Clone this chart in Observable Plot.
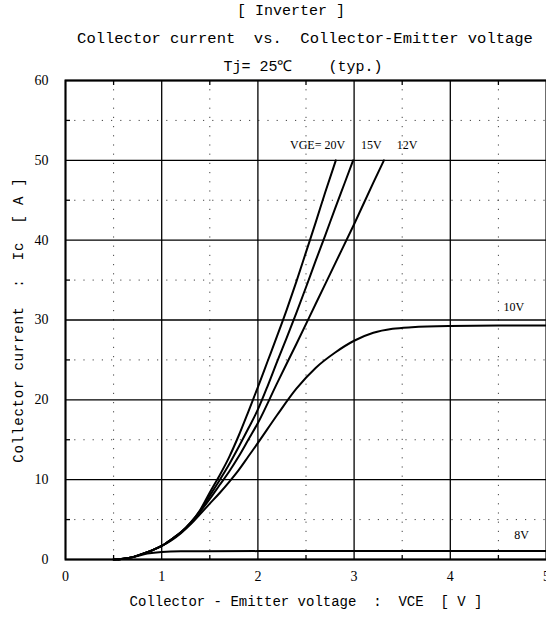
<!DOCTYPE html>
<html>
<head>
<meta charset="utf-8">
<script src="https://cdn.jsdelivr.net/npm/d3@7"></script>
<script src="https://cdn.jsdelivr.net/npm/@observablehq/plot@0.6"></script>
<style>
  body { margin: 0; background: #fff; }
  #wrap { position: relative; width: 546px; height: 620px; }
  .t { position: absolute; left: 0; width: 546px; text-align: center; font-family: "Liberation Mono", monospace; color: #000; white-space: pre; }
  #chart { position: absolute; left: 0; top: 0; }
</style>
</head>
<body>
<div id="wrap">
  <div id="chart"></div>
  <div class="t" style="top:3px;left:18px;font-size:15px;">[ Inverter ]</div>
  <div class="t" style="top:30px;left:32px;font-size:15.5px;">Collector current  vs.  Collector-Emitter voltage</div>
  <div class="t" style="top:55px;left:30px;font-size:15px;">Tj= 25℃    (typ.)</div>
</div>
<script>
const xTicks = [0, 1, 2, 3, 4, 5];
const yTicks = [0, 10, 20, 30, 40, 50, 60];
const xMinor = [0.5, 1.5, 2.5, 3.5, 4.5];
const yMinor = [5, 15, 25, 35, 45, 55];

const vge20 = [[0.5,0],[0.6,0.1],[0.7,0.3],[0.8,0.7],[0.9,1.15],[1.0,1.7],[1.1,2.5],[1.2,3.4],[1.3,4.6],[1.4,6.2],[1.5,8.4],[1.6,10.5],[1.7,12.8],[1.8,15.5],[1.9,18.5],[2.0,21.6],[2.1,24.8],[2.2,28.0],[2.3,31.3],[2.4,34.8],[2.5,38.5],[2.6,42.2],[2.7,46.0],[2.81,50]];
const vge15 = [[0.5,0],[0.6,0.1],[0.7,0.3],[0.8,0.7],[0.9,1.15],[1.0,1.7],[1.1,2.5],[1.2,3.4],[1.3,4.6],[1.4,6.1],[1.5,8.0],[1.6,9.9],[1.7,11.9],[1.8,14.1],[1.9,16.4],[2.0,18.8],[2.1,21.7],[2.2,24.8],[2.3,27.8],[2.4,30.9],[2.5,34.1],[2.6,37.4],[2.7,40.6],[2.8,43.9],[2.9,47.1],[2.99,50]];
const vge12 = [[0.5,0],[0.6,0.1],[0.7,0.3],[0.8,0.7],[0.9,1.15],[1.0,1.7],[1.1,2.5],[1.2,3.4],[1.3,4.5],[1.4,6.0],[1.5,7.6],[1.6,9.3],[1.7,11.0],[1.8,12.9],[1.9,15.0],[2.0,17.1],[2.2,22.1],[2.4,27.0],[2.6,32.0],[2.8,37.0],[3.0,42.0],[3.2,47.2],[3.31,50]];
const vge10 = [[0.5,0],[0.6,0.1],[0.7,0.3],[0.8,0.7],[0.9,1.15],[1.0,1.7],[1.1,2.4],[1.2,3.3],[1.3,4.4],[1.4,5.7],[1.5,7.0],[1.6,8.3],[1.7,9.7],[1.8,11.2],[1.9,12.9],[2.0,14.6],[2.2,18.1],[2.4,21.4],[2.6,24.0],[2.8,25.9],[3.0,27.4],[3.2,28.4],[3.4,28.9],[3.6,29.1],[4.0,29.25],[4.5,29.3],[5.0,29.3]];
const vge8 = [[0.55,0],[0.7,0.3],[0.85,0.75],[1.0,0.95],[1.2,1.02],[2.0,1.05],[5.0,1.05]];

const seriesLabels = ["VGE= 20V", "15V", "12V", "10V", "8V"];
const labelX = [2.62, 3.18, 3.55, 4.66, 4.74];
const labelY = [51.9, 51.9, 51.9, 31.6, 3.0];

const curves = [vge20, vge15, vge12, vge10, vge8];
const lineData = curves.flatMap((c, i) => c.map(([x, y]) => ({x, y, s: i})));
const labels = seriesLabels.map((t, i) => ({t, x: labelX[i], y: labelY[i]}));

const serif = "Liberation Serif, serif";
const mono = "Liberation Mono, monospace";

const chart = Plot.plot({
  width: 546,
  height: 620,
  marginLeft: 65,
  marginRight: 0,
  marginTop: 80,
  marginBottom: 61,
  style: {fontFamily: serif, fontSize: "14px", color: "#000", background: "transparent"},
  x: {domain: [0, 5]},
  y: {domain: [0, 60]},
  marks: [
    Plot.ruleX(xMinor, {stroke: "#444", strokeWidth: 1, strokeDasharray: "1.2,8"}),
    Plot.ruleY(yMinor, {stroke: "#444", strokeWidth: 1, strokeDasharray: "1.2,8"}),
    Plot.ruleX(xTicks, {stroke: "#000", strokeWidth: 1.3}),
    Plot.ruleY(yTicks, {stroke: "#000", strokeWidth: 1.3}),
    Plot.frame({stroke: "#000", strokeWidth: 2}),
    Plot.axisX(xMinor, {anchor: "bottom", tickSize: -4, tickFormat: () => "", label: null, strokeWidth: 1.3}),
    Plot.axisX(xMinor, {anchor: "top", tickSize: -4, tickFormat: () => "", label: null, strokeWidth: 1.3}),
    Plot.axisY(yMinor, {anchor: "left", tickSize: -5, tickFormat: () => "", label: null, strokeWidth: 1.3}),
    Plot.axisX(xTicks, {anchor: "bottom", tickSize: 0, tickPadding: 12, label: "Collector - Emitter voltage  :  VCE  [ V ]", labelAnchor: "center", labelArrow: "none", labelOffset: 46, fontFamily: serif, fontSize: 14}),
    Plot.axisY(yTicks, {anchor: "left", tickSize: 0, tickPadding: 17, label: "Collector current  :  Ic  [ A ]", labelAnchor: "center", labelArrow: "none", labelOffset: 52, fontFamily: serif, fontSize: 14}),
    Plot.line(lineData, {x: "x", y: "y", z: "s", curve: "monotone-x", stroke: "#000", strokeWidth: 2}),
    Plot.text(labels, {x: "x", y: "y", text: "t", fontFamily: serif, fontSize: 12, fill: "#000"})
  ]
});
document.getElementById("chart").appendChild(chart);
chart.querySelectorAll("g[aria-label='x-axis label'] text").forEach(t => {
  t.style.fontFamily = mono;
  t.style.fontSize = "14px";
});
chart.querySelectorAll("g[aria-label='y-axis label'] text").forEach(t => {
  t.style.fontFamily = mono;
  t.style.fontSize = "14px";
  t.style.letterSpacing = "0.8px";
});
</script>
</body>
</html>
